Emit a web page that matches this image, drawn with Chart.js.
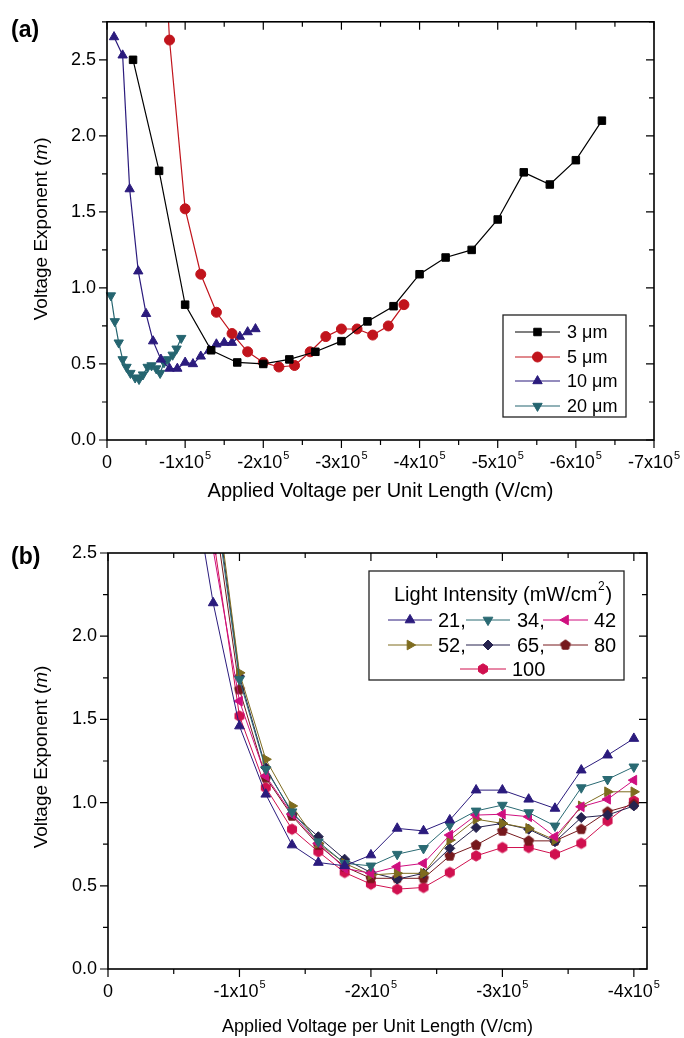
<!DOCTYPE html>
<html><head><meta charset="utf-8">
<script src="https://cdn.jsdelivr.net/npm/chart.js@4.4.0/dist/chart.umd.min.js"></script>
<style>
html,body{margin:0;padding:0;background:#fff;}
#wrapA{position:absolute;left:0;top:0;width:684px;height:510px;}
#wrapB{position:absolute;left:0;top:520px;width:684px;height:518px;}
</style></head><body>
<div id="wrapA"><canvas id="cA" width="684" height="510"></canvas></div>
<div id="wrapB"><canvas id="cB" width="684" height="518"></canvas></div>
<script>
// ---------------- DATA (x in V/cm, y = voltage exponent m) ----------------
// Panel (a)
const a3um_x  = [-33333,-66667,-100000,-133333,-166667,-200000,-233333,-266667,-300000,-333333,-366667,-400000,-433333,-466667,-500000,-533333,-566667,-600000,-633333];
const a3um_y  = [2.50,1.77,0.89,0.59,0.51,0.50,0.53,0.58,0.65,0.78,0.88,1.09,1.20,1.25,1.45,1.76,1.68,1.84,2.10];
const a5um_x  = [-60000,-80000,-100000,-120000,-140000,-160000,-180000,-200000,-220000,-240000,-260000,-280000,-300000,-320000,-340000,-360000,-380000];
const a5um_y  = [4.60,2.63,1.52,1.09,0.84,0.70,0.58,0.51,0.48,0.49,0.58,0.68,0.73,0.73,0.69,0.75,0.89];
const a10um_x = [-9000,-20000,-29000,-40000,-50000,-59000,-69000,-80000,-90000,-100000,-110000,-120000,-131000,-140000,-150000,-160000,-170000,-180000,-190000];
const a10um_y = [2.65,2.53,1.65,1.11,0.83,0.65,0.53,0.47,0.47,0.51,0.50,0.55,0.59,0.63,0.64,0.64,0.68,0.71,0.73];
const a20um_x = [-5000,-10000,-15000,-20000,-25000,-30000,-36000,-41000,-46000,-52000,-57000,-63000,-68000,-73000,-78000,-84000,-89000,-95000];
const a20um_y = [0.95,0.78,0.64,0.53,0.48,0.44,0.41,0.40,0.43,0.48,0.49,0.47,0.44,0.51,0.53,0.56,0.60,0.67];
const aLabels = ['3 \u03bcm','5 \u03bcm','10 \u03bcm','20 \u03bcm'];
const aXTicks = [0,-100000,-200000,-300000,-400000,-500000,-600000,-700000];
const aXTickLabels = ['0','-1x10^5','-2x10^5','-3x10^5','-4x10^5','-5x10^5','-6x10^5','-7x10^5'];
const aYTicks = [0,0.5,1.0,1.5,2.0,2.5];
const aYTickLabels = ['0.0','0.5','1.0','1.5','2.0','2.5'];

// Panel (b)
const b_x   = [-60000,-80000,-100000,-120000,-140000,-160000,-180000,-200000,-220000,-240000,-260000,-280000,-300000,-320000,-340000,-360000,-380000,-400000];
const b21_y = [3.15,2.20,1.46,1.05,0.745,0.64,0.62,0.685,0.845,0.83,0.895,1.075,1.075,1.02,0.965,1.195,1.285,1.385];
const b34_y = [null,2.90,1.74,1.20,0.945,0.765,0.635,0.62,0.69,0.725,0.865,0.95,0.985,0.94,0.86,1.09,1.14,1.215];
const b42_y = [null,2.52,1.61,1.16,0.93,0.755,0.605,0.575,0.615,0.635,0.805,0.925,0.93,0.915,0.795,0.975,1.02,1.135];
const b52_y = [null,3.00,1.78,1.26,0.98,0.755,0.635,0.565,0.575,0.575,0.775,0.90,0.875,0.845,0.775,0.98,1.065,1.065];
const b65_y = [null,2.95,1.76,1.21,0.935,0.795,0.66,0.58,0.54,0.575,0.725,0.85,0.875,0.84,0.765,0.91,0.925,0.98];
const b80_y = [null,2.80,1.68,1.15,0.92,0.745,0.615,0.545,0.545,0.545,0.68,0.745,0.83,0.77,0.77,0.84,0.945,0.99];
const b100_y= [null,2.60,1.52,1.09,0.84,0.705,0.58,0.51,0.48,0.49,0.58,0.68,0.73,0.73,0.69,0.755,0.89,1.01];
const bLabels = ['21,','34,','42','52,','65,','80','100'];
const bXTicks = [0,-100000,-200000,-300000,-400000];
const bXTickLabels = ['0','-1x10^5','-2x10^5','-3x10^5','-4x10^5'];
const bYTicks = [0,0.5,1.0,1.5,2.0,2.5];
const bYTickLabels = ['0.0','0.5','1.0','1.5','2.0','2.5'];

// ---------------- helpers ----------------
const FONT = "'Liberation Sans', Arial, sans-serif";
function pts(xs, ys){ return xs.map((x,i)=>({x:x, y:ys[i]})); }
function polygonCanvas(n, r, color, rot){
  const s = Math.ceil(2*r+3);
  const c = document.createElement('canvas'); c.width = s; c.height = s;
  const g = c.getContext('2d');
  g.beginPath();
  for(let i=0;i<n;i++){
    const ang = rot + i*2*Math.PI/n;
    const px = s/2 + r*Math.sin(ang), py = s/2 - r*Math.cos(ang);
    if(i===0) g.moveTo(px,py); else g.lineTo(px,py);
  }
  g.closePath(); g.fillStyle=color; g.fill(); g.strokeStyle=color; g.lineWidth=1; g.stroke();
  return c;
}
function drawMarker(ctx, ds, x, y){
  const st = ds.pointStyle, r = ds.pointRadius, rot = (ds.pointRotation||0)*Math.PI/180;
  ctx.save();
  ctx.fillStyle = ds.pointBackgroundColor; ctx.strokeStyle = ds.borderColor; ctx.lineWidth = 1;
  if (st instanceof HTMLCanvasElement){ ctx.drawImage(st, x-st.width/2, y-st.height/2); ctx.restore(); return; }
  ctx.beginPath();
  if (st==='circle'){ ctx.arc(x,y,r,0,2*Math.PI); }
  else if (st==='rect'){ const s=Math.SQRT1_2*r; ctx.rect(x-s,y-s,2*s,2*s); }
  else if (st==='rectRot'){ ctx.moveTo(x-r,y); ctx.lineTo(x,y-r); ctx.lineTo(x+r,y); ctx.lineTo(x,y+r); ctx.closePath(); }
  else if (st==='triangle'){
    for(let i=0;i<3;i++){ const a=rot+i*2*Math.PI/3; const px=x+r*Math.sin(a), py=y-r*Math.cos(a); if(i===0)ctx.moveTo(px,py); else ctx.lineTo(px,py);} ctx.closePath();
  }
  ctx.fill(); ctx.stroke(); ctx.restore();
}
function mids(arr){ const m=[]; for(let i=0;i<arr.length-1;i++) m.push((arr[i]+arr[i+1])/2); return m; }

// frame, ticks, x tick labels with superscripts, y-title, panel label, legend
const decorPlugin = {
  id: 'decor',
  afterDraw(chart, args, o){
    const {ctx, chartArea:a} = chart;
    const xs = chart.scales.x, ys = chart.scales.y;
    ctx.save();
    ctx.strokeStyle = '#000'; ctx.lineWidth = 1.2;
    ctx.beginPath();
    const xMaj = o.xTicks, yMaj = o.yTicks;
    const xMin = mids(xMaj), yMin = mids(yMaj).concat(o.yExtraMinor||[]);
    const tick = (v, len, isX) => {
      if (isX){ const p = xs.getPixelForValue(v); if (p<a.left-0.5||p>a.right+0.5) return;
        ctx.moveTo(p,a.bottom); ctx.lineTo(p,a.bottom+len); ctx.moveTo(p,a.top); ctx.lineTo(p,a.top+len); }
      else { const p = ys.getPixelForValue(v); if (p<a.top-0.5||p>a.bottom+0.5) return;
        ctx.moveTo(a.left,p); ctx.lineTo(a.left-len,p); ctx.moveTo(a.right,p); ctx.lineTo(a.right-len,p); }
    };
    xMaj.forEach(v=>tick(v,8,true)); xMin.forEach(v=>tick(v,5,true));
    yMaj.forEach(v=>tick(v,8,false)); yMin.forEach(v=>tick(v,5,false));
    ctx.stroke();
    ctx.lineWidth = 1.6;
    ctx.strokeRect(a.left, a.top, a.right-a.left, a.bottom-a.top);
    // x tick labels (mantissa + superscript exponent)
    ctx.fillStyle = '#000'; ctx.textBaseline = 'alphabetic'; ctx.textAlign = 'left';
    const by = a.bottom + 28;
    o.xLabels.forEach((lab, i) => {
      const p = xs.getPixelForValue(o.xTicks[i]);
      const [base, sup] = lab.split('^');
      ctx.font = '18px '+FONT; const wb = ctx.measureText(base).width;
      let ws = 0; if (sup){ ctx.font = '11px '+FONT; ws = ctx.measureText(sup).width + 1; }
      const x0 = p - (wb+ws)/2;
      ctx.font = '18px '+FONT; ctx.fillText(base, x0, by);
      if (sup){ ctx.font = '11px '+FONT; ctx.fillText(sup, x0+wb+1, by-9); }
    });
    // y title with italic m
    ctx.translate(o.yTitleX, (a.top+a.bottom)/2 + (o.yTitleShift||0));
    ctx.rotate(-Math.PI/2);
    const parts = [['Voltage Exponent (', 'normal'], ['m','italic'], [')','normal']];
    let total = 0;
    parts.forEach(p=>{ ctx.font = p[1]+' '+o.yTitleSize+'px '+FONT; total += ctx.measureText(p[0]).width; });
    let cx = -total/2;
    parts.forEach(p=>{ ctx.font = p[1]+' '+o.yTitleSize+'px '+FONT; ctx.fillText(p[0], cx, 0); cx += ctx.measureText(p[0]).width; });
    ctx.restore();
    // panel label
    ctx.save();
    ctx.fillStyle='#000'; ctx.font = 'bold 23px '+FONT; ctx.textBaseline='alphabetic';
    ctx.fillText(o.panel, 11, o.panelY);
    ctx.restore();
    // legend
    const L = o.legend;
    ctx.save();
    ctx.fillStyle = '#fff';
    ctx.fillRect(L.box[0], L.box[1], L.box[2]-L.box[0], L.box[3]-L.box[1]);
    ctx.strokeStyle = '#222'; ctx.lineWidth = 1.3;
    ctx.strokeRect(L.box[0], L.box[1], L.box[2]-L.box[0], L.box[3]-L.box[1]);
    ctx.fillStyle = '#000'; ctx.font = L.size+'px '+FONT; ctx.textBaseline = 'middle';
    if (L.title){
      ctx.fillText('Light Intensity (mW/cm', L.title[0], L.title[1]);
      const w = ctx.measureText('Light Intensity (mW/cm').width;
      ctx.font = Math.round(L.size*0.6)+'px '+FONT;
      ctx.fillText('2', L.title[0]+w+0.5, L.title[1]-8);
      const w2 = ctx.measureText('2').width;
      ctx.font = L.size+'px '+FONT;
      ctx.fillText(')', L.title[0]+w+w2+1.5, L.title[1]);
    }
    L.items.forEach((it, i) => {
      const ds = chart.data.datasets[i];
      ctx.strokeStyle = ds.borderColor; ctx.lineWidth = ds.borderWidth;
      ctx.beginPath(); ctx.moveTo(it[0], it[2]); ctx.lineTo(it[1], it[2]); ctx.stroke();
      drawMarker(ctx, ds, (it[0]+it[1])/2, it[2]);
      ctx.fillStyle = '#000'; ctx.font = L.size+'px '+FONT;
      ctx.fillText(ds.label, it[3], it[2]+1);
    });
    ctx.restore();
  }
};

function mkDs(label, data, color, style, r, rot, bw){
  return { label, data, borderColor: color, backgroundColor: color, pointBackgroundColor: color,
    pointBorderColor: color, pointBorderWidth: 1, borderWidth: bw, pointStyle: style, pointRadius: r,
    pointRotation: rot||0, pointHoverRadius: r, tension: 0, spanGaps: false,
    clip: {left: 10, right: 10, top: 0, bottom: 10} };
}

function baseScales(cfg){
  return {
    x: { type:'linear', reverse:true, min:cfg.xmin, max:0,
      afterBuildTicks: s => { s.ticks = cfg.xTicks.map(v=>({value:v})); },
      afterFit: s => { s.height = cfg.xH; },
      ticks: { display:false },
      grid: { display:false, drawTicks:false }, border: { display:false },
      title: { display:true, text:'Applied Voltage per Unit Length (V/cm)', color:'#000', font:{family:FONT,size:cfg.titleSize}, padding:{top:0,bottom:cfg.titlePad} }
    },
    y: { type:'linear', min:0, max:cfg.ymax,
      afterBuildTicks: s => { s.ticks = cfg.yTicks.map(v=>({value:v})); },
      afterFit: s => { s.width = cfg.yW; },
      ticks: { callback: (v,i)=> cfg.yLabels[i], color:'#000', font:{family:FONT,size:18}, padding:11 },
      grid: { display:false, drawTicks:false }, border: { display:false }
    }
  };
}

// ---------------- Chart (a) ----------------
new Chart(document.getElementById('cA'), {
  type: 'line',
  data: { datasets: [
    mkDs(aLabels[0], pts(a3um_x,a3um_y), '#000000', 'rect', 5.3, 0, 1.2),
    mkDs(aLabels[1], pts(a5um_x,a5um_y), '#c1141c', 'circle', 5, 0, 1.2),
    mkDs(aLabels[2], pts(a10um_x,a10um_y), '#2b1b7d', 'triangle', 5.4, 0, 1.2),
    mkDs(aLabels[3], pts(a20um_x,a20um_y), '#256570', 'triangle', 5.4, 180, 1.2)
  ]},
  options: {
    responsive:false, animation:false, devicePixelRatio:1,
    layout: { padding: { top:16, right:30, left:0, bottom:0 } },
    plugins: { legend:{display:false}, tooltip:{enabled:false},
      decor: { xTicks:aXTicks, xLabels:aXTickLabels, yTicks:aYTicks, yExtraMinor:[2.75], yTitleX:47, yTitleSize:19, yTitleShift:-2, panel:'(a)', panelY:37,
        legend: { size:18, box:[503,315,626,417], items:[[515,560,332,567],[515,560,357,567],[515,560,381,567],[515,560,406,567]] } } },
    scales: baseScales({xmin:-700000, xTicks:aXTicks, xH:70, titleSize:20, titlePad:7,
      ymax:2.75, yTicks:aYTicks, yLabels:aYTickLabels, yW:107})
  },
  plugins: [decorPlugin]
});

// ---------------- Chart (b) ----------------
new Chart(document.getElementById('cB'), {
  type: 'line',
  data: { datasets: [
    mkDs(bLabels[0], pts(b_x,b21_y), '#2b1b7d', 'triangle', 5.6, 0, 1),
    mkDs(bLabels[1], pts(b_x,b34_y), '#2a6a73', 'triangle', 5.6, 180, 1),
    mkDs(bLabels[2], pts(b_x,b42_y), '#cf0f7f', 'triangle', 5.6, -90, 1),
    mkDs(bLabels[3], pts(b_x,b52_y), '#7e6c1f', 'triangle', 5.6, 90, 1),
    mkDs(bLabels[4], pts(b_x,b65_y), '#26234f', 'rectRot', 5, 0, 1),
    mkDs(bLabels[5], pts(b_x,b80_y), '#76191d', polygonCanvas(5, 5.2, '#76191d', 0), 5, 0, 1),
    mkDs(bLabels[6], pts(b_x,b100_y), '#d0104f', polygonCanvas(6, 5.2, '#d0104f', 0), 5, 0, 1)
  ]},
  options: {
    responsive:false, animation:false, devicePixelRatio:1,
    layout: { padding: { top:33, right:37, left:0, bottom:0 } },
    plugins: { legend:{display:false}, tooltip:{enabled:false},
      decor: { xTicks:bXTicks, xLabels:bXTickLabels, yTicks:bYTicks, yTitleX:47, yTitleSize:19, yTitleShift:-4, panel:'(b)', panelY:44,
        legend: { size:20, box:[369,51,624,160], title:[394,75],
          items:[[388,432,100,438],[466,510,100,517],[543,588,100,594],
                 [388,432,125,438],[466,510,125,517],[543,588,125,594],
                 [460,506,149,512]] } } },
    scales: baseScales({xmin:-410000, xTicks:bXTicks, xH:69, titleSize:18, titlePad:0,
      ymax:2.5, yTicks:bYTicks, yLabels:bYTickLabels, yW:108})
  },
  plugins: [decorPlugin]
});
</script>
</body></html>
